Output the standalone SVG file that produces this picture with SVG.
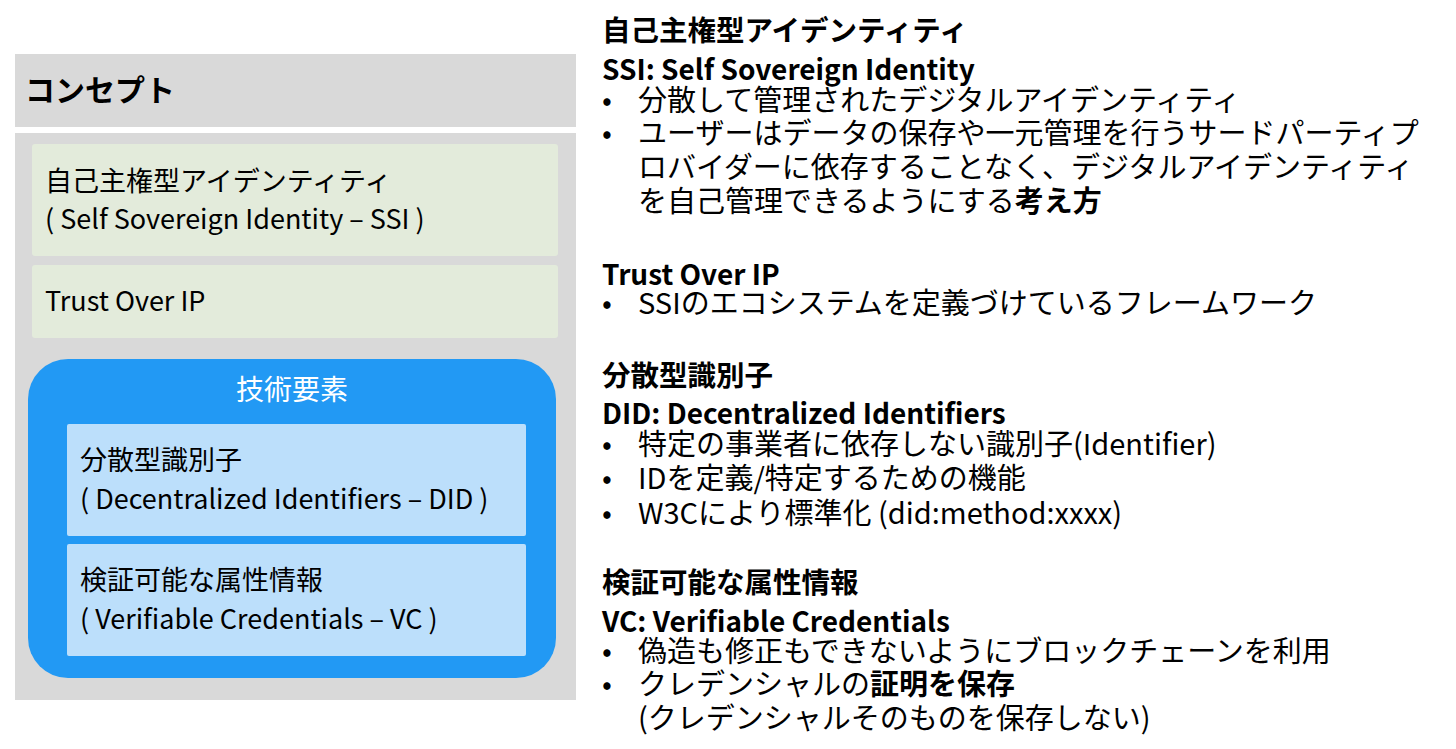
<svg xmlns="http://www.w3.org/2000/svg" width="1456" height="749" viewBox="0 0 1456 749">
<style>
text{font-family:"Noto Sans CJK JP","Noto Sans",sans-serif;fill:#000}
.l{font-size:27px}
.b{font-weight:bold}
.r{font-size:29px}
.h{font-size:28.5px;font-weight:bold}
.he{font-size:28px;font-weight:bold}
.gray{fill:#d9d9d9}
.green{fill:#e3ebdb}
.lb{fill:#bcdffb}
</style>
<rect width="1456" height="749" fill="#ffffff"/>
<g id="concept-header">
<rect class="gray" x="15" y="54" width="561" height="73"/>
<text x="25" y="101" font-size="30" class="b">コンセプト</text>
</g>
<g id="concept-body">
<rect class="gray" x="15" y="133" width="561" height="567"/>
</g>
<g id="ssi-box">
<rect class="green" x="32" y="144" width="526" height="112" rx="3"/>
<text class="l" x="45" y="191">自己主権型アイデンティティ</text>
<text class="l" x="45" y="229">( Self Sovereign Identity – SSI )</text>
</g>
<g id="toip-box">
<rect class="green" x="32" y="265" width="526" height="73" rx="3"/>
<text class="l" x="45" y="311">Trust Over IP</text>
</g>
<g id="tech-box">
<rect x="28" y="359" width="528" height="319" rx="40" fill="#2299f4"/>
<text x="292" y="400" font-size="28" text-anchor="middle" style="fill:#ffffff">技術要素</text>
</g>
<g id="did-box">
<rect class="lb" x="67" y="424" width="459" height="112" rx="2"/>
<text class="l" x="80" y="470">分散型識別子</text>
<text class="l" x="80" y="509">( Decentralized Identifiers – DID )</text>
</g>
<g id="vc-box">
<rect class="lb" x="67" y="544" width="459" height="112" rx="2"/>
<text class="l" x="80" y="590">検証可能な属性情報</text>
<text class="l" x="80" y="629">( Verifiable Credentials – VC )</text>
</g>
<g id="desc-ssi">
<text class="h" x="602" y="41">自己主権型アイデンティティ</text>
<text class="he" x="602" y="80">SSI: Self Sovereign Identity</text>
<text class="r" x="602" y="111">•</text>
<text class="r" x="638" y="111">分散して管理されたデジタルアイデンティティ</text>
<text class="r" x="602" y="144">•</text>
<text class="r" x="638" y="144">ユーザーはデータの保存や一元管理を行うサードパーティプ</text>
<text class="r" x="638" y="178">ロバイダーに依存することなく、デジタルアイデンティティ</text>
<text class="r" x="638" y="212">を自己管理できるようにする<tspan class="b">考え方</tspan></text>
</g>
<g id="desc-toip">
<text class="he" x="602" y="285">Trust Over IP</text>
<text class="r" x="602" y="314">•</text>
<text class="r" x="638" y="314">SSIのエコシステムを定義づけているフレームワーク</text>
</g>
<g id="desc-did">
<text class="h" x="602" y="386">分散型識別子</text>
<text class="he" x="602" y="424">DID: Decentralized Identifiers</text>
<text class="r" x="602" y="455">•</text>
<text class="r" x="638" y="455">特定の事業者に依存しない識別子(Identifier)</text>
<text class="r" x="602" y="489">•</text>
<text class="r" x="638" y="489">IDを定義/特定するための機能</text>
<text class="r" x="602" y="524">•</text>
<text class="r" x="638" y="524">W3Cにより標準化 (did:method:xxxx)</text>
</g>
<g id="desc-vc">
<text class="h" x="602" y="593">検証可能な属性情報</text>
<text class="he" x="602" y="632">VC: Verifiable Credentials</text>
<text class="r" x="602" y="662">•</text>
<text class="r" x="638" y="662">偽造も修正もできないようにブロックチェーンを利用</text>
<text class="r" x="602" y="695">•</text>
<text class="r" x="638" y="695">クレデンシャルの<tspan class="b">証明を保存</tspan></text>
<text class="r" x="638" y="729">(クレデンシャルそのものを保存しない)</text>
</g>
<g id="connectors"></g>
</svg>
